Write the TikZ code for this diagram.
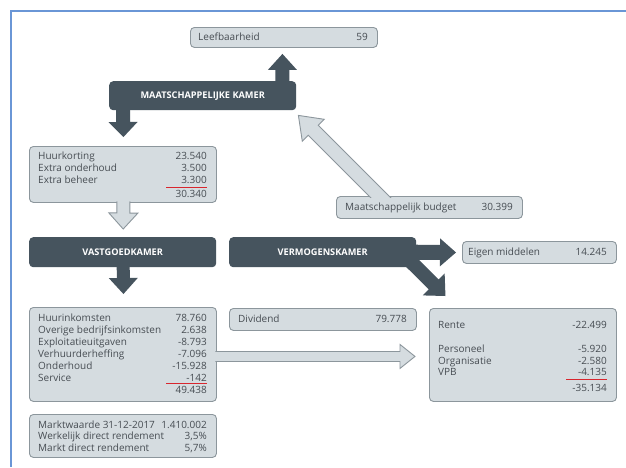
\documentclass[tikz,border=0pt]{standalone}
\usepackage{fontspec}
\setmainfont{Open Sans}
\usetikzlibrary{calc}
\definecolor{dark}{HTML}{46545E}
\definecolor{lite}{HTML}{D5DCE0}
\definecolor{edge}{HTML}{8C969C}
\definecolor{txt}{HTML}{474D53}
\definecolor{redl}{HTML}{D8262E}
\definecolor{framec}{HTML}{6A96D6}
\tikzset{
 lightbox/.style={draw=edge, fill=lite, rounded corners=4pt, line width=0.9pt, anchor=north west, inner sep=0pt},
 darkbox/.style={fill=dark, rounded corners=4pt, anchor=north west, inner sep=0pt, text=white, font=\bfseries\fontsize{9.2}{11}\selectfont},
 lbl/.style={text=txt, font=\fontsize{10}{12}\selectfont, inner sep=0pt},
 redrule/.style={draw=redl, line width=0.8pt},
 hollowline/.style={draw=edge, line width=0.9pt, line join=miter},
}
\newcommand{\entry}[6]{%
 \node[lbl, anchor=base west] (#1a) at (#2,#4) {#5};
 \node[lbl, anchor=base east] (#1b) at (#3,#4) {#6};}
\newcommand{\fatarrow}[7]{%
 \coordinate (fab) at ($(#4)!#7!(#3)$);
 \fill[#1] ($(#3)!#5!90:(#4)$) -- ($(fab)!#5!90:(#4)$) -- ($(fab)!#6!90:(#4)$) -- (#4) -- ($(fab)!#6!-90:(#4)$) -- ($(fab)!#5!-90:(#4)$) -- ($(#3)!#5!-90:(#4)$) -- cycle;
 \draw[#2] ($(#3)!#5!90:(#4)$) -- ($(fab)!#5!90:(#4)$) -- ($(fab)!#6!90:(#4)$) -- (#4) -- ($(fab)!#6!-90:(#4)$) -- ($(fab)!#5!-90:(#4)$) -- ($(#3)!#5!-90:(#4)$);}
\begin{document}
\begin{tikzpicture}[x=1pt,y=-1pt]
\useasboundingbox (0,0) rectangle (626,467);
\fill[white] (0,0) rectangle (626,467);
% frame
\draw[framec, line width=1.5pt] (626,11) -- (11,11) -- (11,467);

% light boxes
\node[lightbox, minimum width=187pt, minimum height=20pt] (lb) at (190,27) {};
\node[lightbox, minimum width=187pt, minimum height=56pt] (hk) at (29,146) {};
\node[lightbox, minimum width=186pt, minimum height=22pt] (mb) at (336,196) {};
\node[lightbox, minimum width=154pt, minimum height=22pt] (em) at (462,241) {};
\node[lightbox, minimum width=187pt, minimum height=94pt] (hi) at (29,307) {};
\node[lightbox, minimum width=187pt, minimum height=43pt] (mw) at (29,414) {};
\node[lightbox, minimum width=187pt, minimum height=22pt] (dv) at (229,308) {};
\node[lightbox, minimum width=187pt, minimum height=93pt] (rt) at (429,308) {};

% dark boxes
\node[darkbox, minimum width=187pt, minimum height=29pt] (mk) at (109,81) {MAATSCHAPPELIJKE KAMER};
\node[darkbox, minimum width=187pt, minimum height=30pt] (vg) at (29,237) {VASTGOEDKAMER};
\node[darkbox, minimum width=187pt, minimum height=30pt] (vm) at (229,237) {VERMOGENSKAMER};

% dark arrows
\coordinate (s1) at ($(mk.north east)+(-14,4)$);   \coordinate (t1) at ($(lb.south)+(-1.5,6)$);
\coordinate (s2) at ($(mk.south west)+(14,-3)$);  \coordinate (t2) at ($(hk.north)+(0.5,-9)$);
\coordinate (s3) at ($(vg.south)+(0.5,-3)$);  \coordinate (t3) at ($(hi.north)+(0.5,-13)$);
\coordinate (s4) at ($(vm.east)+(-6,0)$);  \coordinate (t4) at ($(em.west)+(-6,0)$);
\coordinate (s5) at (398,249);  \coordinate (t5) at ($(rt.north)+(-77.5,-12)$);
\fatarrow{dark}{draw=none}{s1}{t1}{7pt}{14.5pt}{16pt}
\fatarrow{dark}{draw=none}{s2}{t2}{7pt}{14.5pt}{15pt}
\fatarrow{dark}{draw=none}{s3}{t3}{6.5pt}{14.5pt}{16pt}
\fatarrow{dark}{draw=none}{s4}{t4}{7.5pt}{14pt}{16pt}
\fatarrow{dark}{draw=none}{s5}{t5}{7pt}{15.5pt}{16.5pt}

% hollow arrows
\coordinate (h1s) at ($(hk.south)+(0.5,-1.5)$); \coordinate (h1t) at ($(vg.north)+(0.5,-8)$);
\fatarrow{lite}{hollowline}{h1s}{h1t}{6.5pt}{14.5pt}{16pt}
\coordinate (h2s) at ($(hi.east)+(-1.5,2)$); \coordinate (h2t) at ($(rt.west)+(-14,1.5)$);
\fatarrow{lite}{hollowline}{h2s}{h2t}{5pt}{12pt}{15pt}
\begin{scope}
\clip (0,0) rectangle (626,197.2);
\coordinate (h3s) at (395,212); \coordinate (h3t) at ($(mk.south east)+(2,5)$);
\fatarrow{lite}{hollowline}{h3s}{h3t}{7pt}{15.5pt}{21pt}
\end{scope}

% texts
\entry{lbr}{198}{368}{40}{Leefbaarheid}{59}
\entry{k1}{38}{207}{159}{Huurkorting}{23.540}
\entry{k2}{38}{207}{171.3}{Extra onderhoud}{3.500}
\entry{k3}{38}{207}{183}{Extra beheer}{3.300}
\draw[redrule] (166,187) -- (207,187);
\node[lbl, anchor=base east] (k4) at (207,197) {30.340};
\entry{mbr}{345}{513}{210}{Maatschappelijk budget}{30.399}
\entry{emr}{468}{607}{255}{Eigen middelen}{14.245}
\entry{dvr}{238}{407}{322}{Dividend}{79.778}
\entry{i1}{38}{207}{321.5}{Huurinkomsten}{78.760}
\entry{i2}{38}{207}{333.5}{Overige bedrijfsinkomsten}{2.638}
\entry{i3}{38}{207}{345.5}{Exploitatieuitgaven}{-8.793}
\entry{i4}{38}{207}{357.5}{Verhuurderheffing}{-7.096}
\entry{i5}{38}{207}{369.5}{Onderhoud}{-15.928}
\entry{i6}{38}{207}{381.5}{Service}{-142}
\draw[redrule] (166,383.5) -- (207,383.5);
\node[lbl, anchor=base east] (i7) at (207,393.5) {49.438};
\entry{m1}{38}{207}{428}{Marktwaarde 31-12-2017}{1.410.002}
\entry{m2}{38}{207}{439.5}{Werkelijk direct rendement}{3,5\%}
\entry{m3}{38}{207}{451}{Markt direct rendement}{5,7\%}
\entry{r1}{438}{607}{328}{Rente}{-22.499}
\entry{r2}{438}{607}{352.3}{Personeel}{-5.920}
\entry{r3}{438}{607}{364.7}{Organisatie}{-2.580}
\entry{r4}{438}{607}{375.7}{VPB}{-4.135}
\draw[redrule] (566,379.3) -- (607,379.3);
\node[lbl, anchor=base east] (r5) at (607,391.3) {-35.134};
\end{tikzpicture}
\end{document}
